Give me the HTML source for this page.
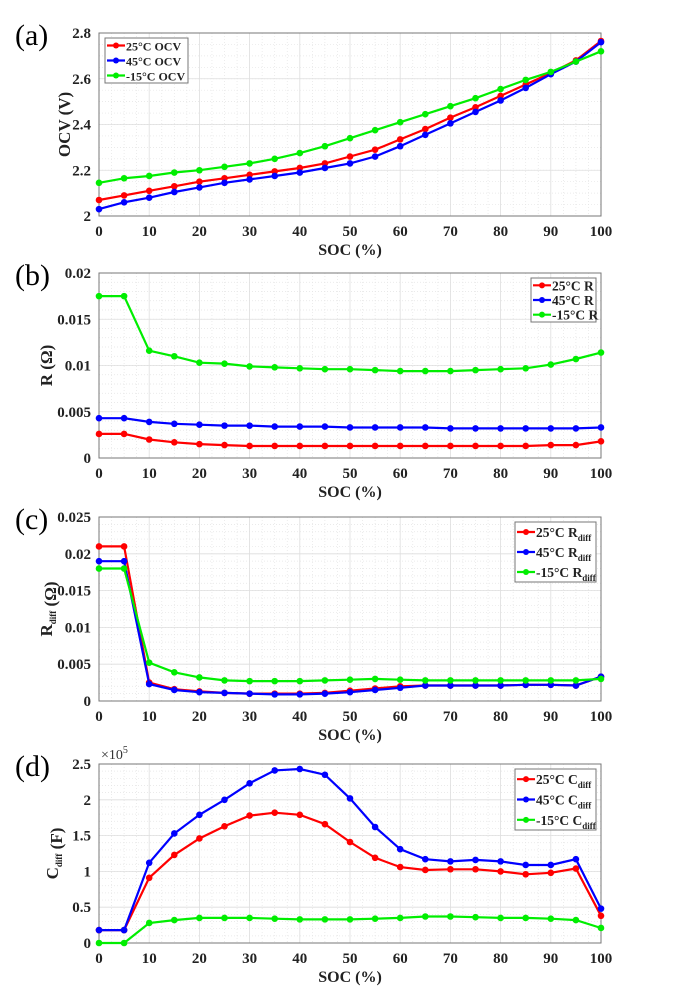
<!DOCTYPE html>
<html><head><meta charset="utf-8"><style>
html,body{margin:0;padding:0;background:#fff;width:678px;height:1001px;overflow:hidden}
svg{display:block}
text{font-family:"Liberation Serif",serif}
</style></head><body>
<svg id="s" width="678" height="1001" xmlns="http://www.w3.org/2000/svg"></svg>
<script>
const S=document.getElementById('s');let h='';
const X0=99,X1=601;
const xs=[];for(let i=0;i<=20;i++)xs.push(i*5);
function px(x){return X0+(X1-X0)*x/100}
function panel(o){
 const {top,bot,ymin,ymax,ticks,labels,minor,series,leg,lab,ylab,extra,lfs}=o;
 const py=v=>bot-(bot-top)*(v-ymin)/(ymax-ymin);
 for(let x=0;x<=100;x+=2.5){if(x%10==0)continue;h+=`<line x1="${px(x)}" y1="${top}" x2="${px(x)}" y2="${bot}" stroke="#e4e4e4" stroke-width="0.7" stroke-dasharray="1,2"/>`;}
 for(let v=ymin;v<=ymax+1e-9;v+=minor){h+=`<line x1="${X0}" y1="${py(v)}" x2="${X1}" y2="${py(v)}" stroke="#e4e4e4" stroke-width="0.7" stroke-dasharray="1,2"/>`;}
 for(let x=10;x<100;x+=10)h+=`<line x1="${px(x)}" y1="${top}" x2="${px(x)}" y2="${bot}" stroke="#dedede" stroke-width="0.8"/>`;
 ticks.forEach(v=>h+=`<line x1="${X0}" y1="${py(v)}" x2="${X1}" y2="${py(v)}" stroke="#dedede" stroke-width="0.8"/>`);
 h+=`<rect x="${X0}" y="${top}" width="${X1-X0}" height="${bot-top}" fill="none" stroke="#777" stroke-width="1"/>`;
 ticks.forEach((v,i)=>h+=`<text x="${X0-8}" y="${py(v)+5}" font-size="15" font-weight="bold" text-anchor="end" fill="#222">${labels[i]}</text>`);
 for(let x=0;x<=100;x+=10)h+=`<text x="${px(x)}" y="${bot+20}" font-size="15" font-weight="bold" text-anchor="middle" fill="#222">${x}</text>`;
 h+=`<text x="350" y="${bot+39}" font-size="16" font-weight="bold" text-anchor="middle" fill="#222">SOC (%)</text>`;
 h+=`<text x="15" y="${top+12}" font-size="30" fill="#000">${lab}</text>`;
 h+=ylab(top,bot);
 series.forEach(s=>{
  const pts=s.d.map((v,i)=>px(xs[i]).toFixed(1)+','+py(v).toFixed(1)).join(' ');
  h+=`<polyline points="${pts}" fill="none" stroke="${s.c}" stroke-width="2.2"/>`;
  s.d.forEach((v,i)=>h+=`<circle cx="${px(xs[i])}" cy="${py(v)}" r="3.3" fill="${s.c}"/>`);
 });
 const [lx,ly,lw,lhh]=leg;
 h+=`<rect x="${lx}" y="${ly}" width="${lw}" height="${lhh}" fill="#fff" stroke="#777" stroke-width="1"/>`;
 const n=series.length,step=lhh/n;
 series.forEach((s,i)=>{const yy=ly+step*(i+0.5);
  h+=`<line x1="${lx+2}" y1="${yy}" x2="${lx+20}" y2="${yy}" stroke="${s.c}" stroke-width="2.2"/><circle cx="${lx+11}" cy="${yy}" r="3" fill="${s.c}"/>`;
  h+=`<text x="${lx+21}" y="${yy+5}" font-size="${lfs||13.5}" font-weight="bold" fill="#222">${s.n}</text>`;});
 if(extra)h+=extra;
}
const R='#ff0000',B='#0000ff',G='#00ee00';
const sub=t=>`${t}<tspan font-size="9" dy="4">diff</tspan>`;
panel({top:33,bot:216,ymin:2,ymax:2.8,ticks:[2,2.2,2.4,2.6,2.8],labels:['2','2.2','2.4','2.6','2.8'],minor:0.05,lab:'(a)',
 leg:[105,38,83,45],lfs:12,
 ylab:(t,b)=>`<text transform="translate(70,${(t+b)/2}) rotate(-90)" font-size="17" font-weight="bold" text-anchor="middle" fill="#222">OCV (V)</text>`,
 series:[{c:R,n:'25°C OCV',d:[2.07,2.09,2.11,2.13,2.15,2.165,2.18,2.195,2.21,2.23,2.26,2.29,2.335,2.38,2.43,2.475,2.525,2.575,2.625,2.68,2.765]},
 {c:B,n:'45°C OCV',d:[2.03,2.06,2.08,2.105,2.125,2.145,2.16,2.175,2.19,2.21,2.23,2.26,2.305,2.355,2.405,2.455,2.505,2.56,2.62,2.675,2.76]},
 {c:G,n:'-15°C OCV',d:[2.145,2.165,2.175,2.19,2.2,2.215,2.23,2.25,2.275,2.305,2.34,2.375,2.41,2.445,2.48,2.515,2.555,2.595,2.63,2.675,2.72]}]});
panel({top:273,bot:458,ymin:0,ymax:0.02,ticks:[0,0.005,0.01,0.015,0.02],labels:['0','0.005','0.01','0.015','0.02'],minor:0.001,lab:'(b)',
 leg:[531,278,65,44],
 ylab:(t,b)=>`<text transform="translate(52,${(t+b)/2}) rotate(-90)" font-size="17" font-weight="bold" text-anchor="middle" fill="#222">R (Ω)</text>`,
 series:[{c:R,n:'25°C R',d:[.0026,.0026,.0020,.0017,.0015,.0014,.0013,.0013,.0013,.0013,.0013,.0013,.0013,.0013,.0013,.0013,.0013,.0013,.0014,.0014,.0018]},
 {c:B,n:'45°C R',d:[.0043,.0043,.0039,.0037,.0036,.0035,.0035,.0034,.0034,.0034,.0033,.0033,.0033,.0033,.0032,.0032,.0032,.0032,.0032,.0032,.0033]},
 {c:G,n:'-15°C R',d:[.0175,.0175,.0116,.011,.0103,.0102,.0099,.0098,.0097,.0096,.0096,.0095,.0094,.0094,.0094,.0095,.0096,.0097,.0101,.0107,.0114]}]});
panel({top:517,bot:701,ymin:0,ymax:0.025,ticks:[0,0.005,0.01,0.015,0.02,0.025],labels:['0','0.005','0.01','0.015','0.02','0.025'],minor:0.001,lab:'(c)',
 leg:[515,522,81,60],
 ylab:(t,b)=>`<text transform="translate(52,${(t+b)/2}) rotate(-90)" font-size="17" font-weight="bold" text-anchor="middle" fill="#222">${sub('R')} (Ω)</text>`,
 series:[{c:R,n:sub('25°C R'),d:[.021,.021,.0025,.0016,.0013,.0011,.0010,.0010,.0010,.0011,.0014,.0017,.0020,.0021,.0021,.0021,.0021,.0022,.0022,.0021,.0033]},
 {c:B,n:sub('45°C R'),d:[.019,.019,.0023,.0015,.0012,.0011,.0010,.0009,.0009,.0010,.0012,.0015,.0018,.0021,.0021,.0021,.0021,.0022,.0022,.0021,.0033]},
 {c:G,n:sub('-15°C R'),d:[.018,.018,.0052,.0039,.0032,.0028,.0027,.0027,.0027,.0028,.0029,.0030,.0029,.0028,.0028,.0028,.0028,.0028,.0028,.0028,.0030]}]});
panel({top:764,bot:943,ymin:0,ymax:2.5,ticks:[0,0.5,1,1.5,2,2.5],labels:['0','0.5','1','1.5','2','2.5'],minor:0.1,lab:'(d)',
 leg:[515,769,81,61],
 ylab:(t,b)=>`<text transform="translate(58,${(t+b)/2}) rotate(-90)" font-size="17" font-weight="bold" text-anchor="middle" fill="#222">${sub('C')} (F)</text>`,
 extra:`<text x="101" y="759" font-size="14" fill="#333">×10<tspan font-size="10" dy="-6">5</tspan></text>`,
 series:[{c:R,n:sub('25°C C'),d:[.18,.18,.91,1.23,1.46,1.63,1.78,1.82,1.79,1.66,1.41,1.19,1.06,1.02,1.03,1.03,1.0,.96,.98,1.04,.38]},
 {c:B,n:sub('45°C C'),d:[.18,.18,1.12,1.53,1.79,2.0,2.23,2.41,2.43,2.35,2.02,1.62,1.31,1.17,1.14,1.16,1.14,1.09,1.09,1.17,.48]},
 {c:G,n:sub('-15°C C'),d:[0,0,.28,.32,.35,.35,.35,.34,.33,.33,.33,.34,.35,.37,.37,.36,.35,.35,.34,.32,.21]}]});
S.innerHTML=h;
</script>
</body></html>
